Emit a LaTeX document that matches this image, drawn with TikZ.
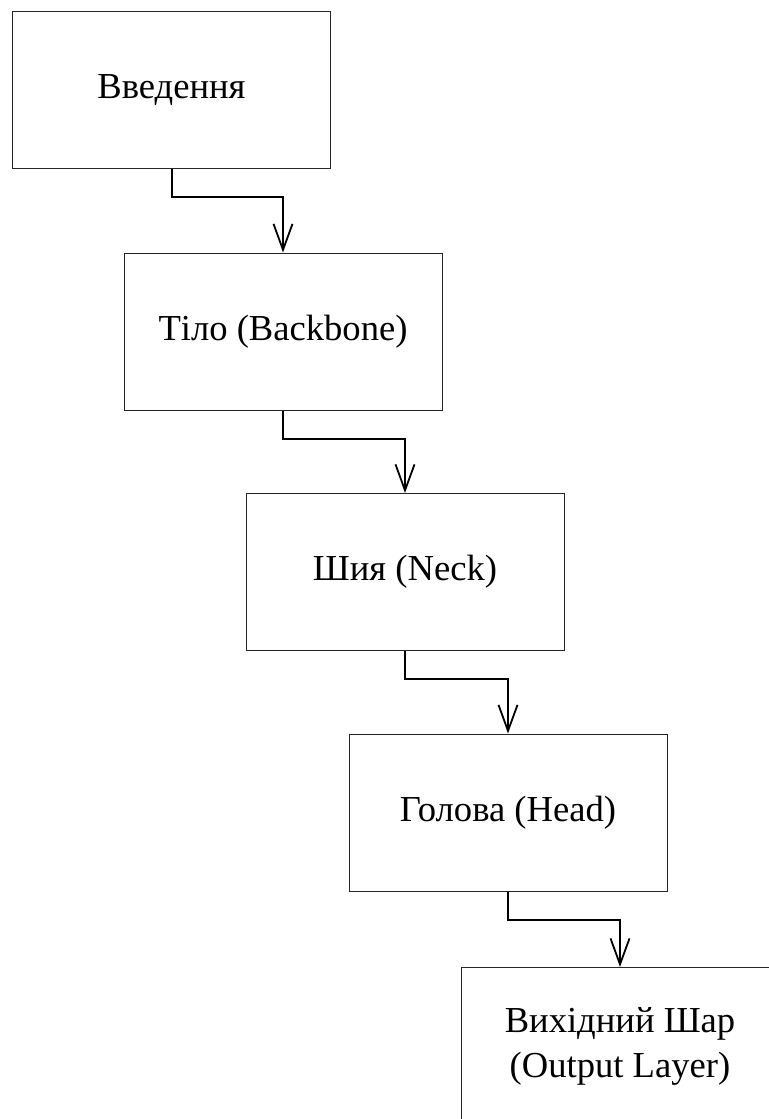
\documentclass[tikz,border=0pt]{standalone}
\usepackage{fontspec}
\setmainfont{Liberation Serif}
\usepackage{tikz}
\usetikzlibrary{arrows.meta}

\begin{document}
\begin{tikzpicture}[x=0.5pt, y=-0.5pt,
    stage/.style={rectangle, draw=black!85, line width=0.5pt, minimum width=159pt, minimum height=78.5pt, align=center, font=\fontsize{18.3}{22.5}\selectfont},
    flow/.style={line width=1pt, -{Straight Barb[length=13pt, width=9.5pt, line width=0.9pt]}}]
    \clip (0,0) rectangle (769,1119);
    % Stages
    \node[stage] (intro) at (171.5,90) {Введення};
    \node[stage] (backbone) at (283,331.5) {Тіло (Backbone)};
    \node[stage] (neck) at (405,572) {Шия (Neck)};
    \node[stage] (head) at (508,812.5) {Голова (Head)};
    \node[stage] (output) at (620,1046) {Вихідний Шар\\(Output Layer)};
    
    % Arrows
    \draw[flow] (intro.south) -- ++(0,28) -| (backbone.north);
    \draw[flow] (backbone.south) -- ++(0,28) -| (neck.north);
    \draw[flow] (neck.south) -- ++(0,28) -| (head.north);
    \draw[flow] (head.south) -- ++(0,28) -| (output.north);
\end{tikzpicture}
\end{document}
